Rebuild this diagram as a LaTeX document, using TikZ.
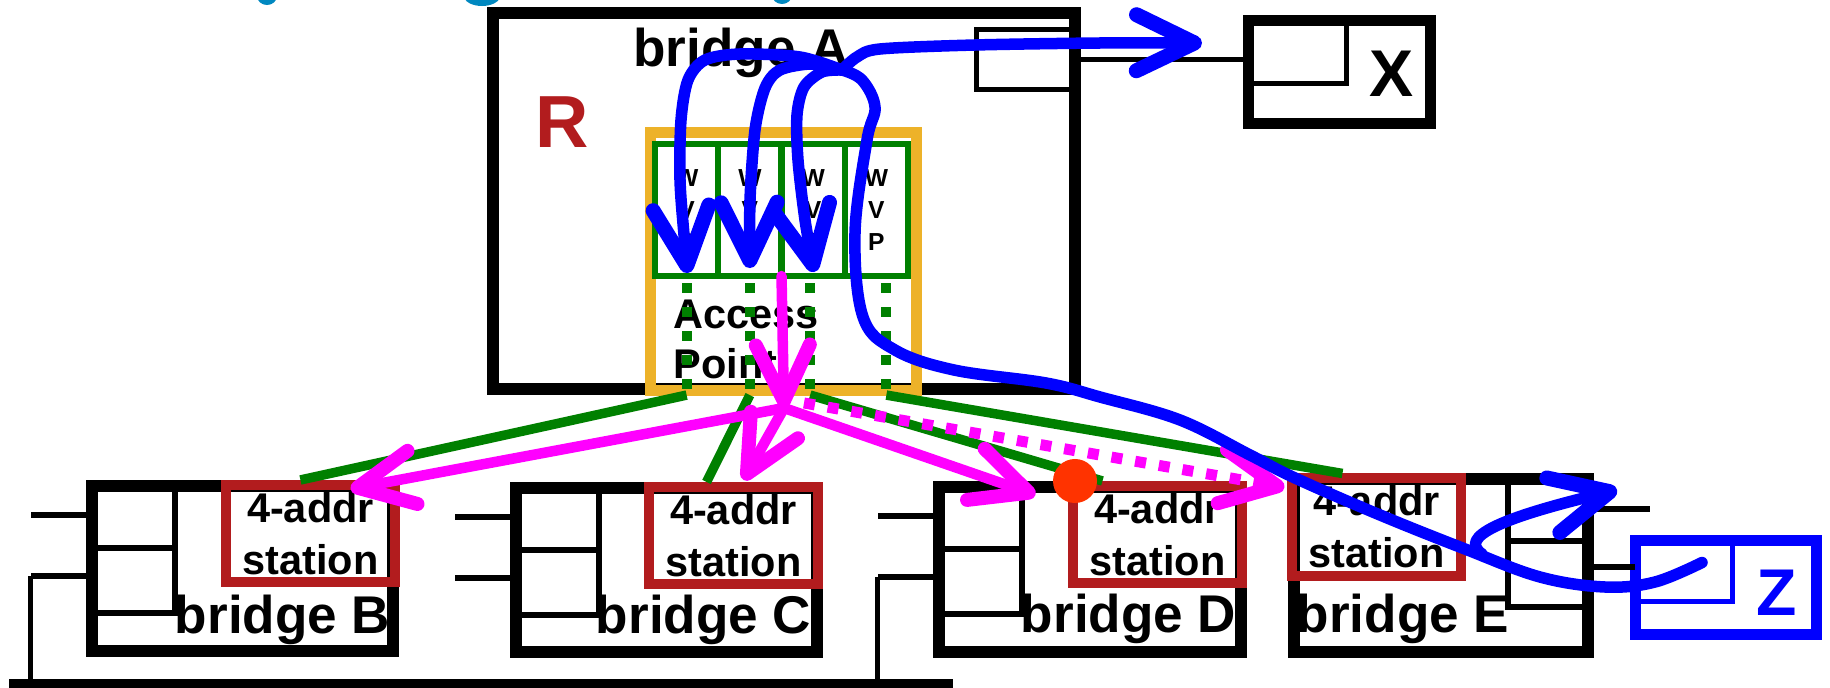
\documentclass[tikz,border=0pt]{standalone}
\usepackage{fontspec}
\setmainfont{Liberation Sans}
\usepackage{tikz}
\usetikzlibrary{arrows.meta,calc,positioning}

\definecolor{brred}{RGB}{178,28,30}
\definecolor{apgold}{RGB}{237,178,41}
\definecolor{linkgreen}{RGB}{0,128,0}
\definecolor{bcmag}{RGB}{255,0,255}
\definecolor{ucblue}{RGB}{0,0,255}
\definecolor{dotred}{RGB}{255,51,0}
\definecolor{titlecyan}{RGB}{0,136,192}

\newcommand{\brfont}{\fontsize{15.1}{18}\selectfont\bfseries}
\newcommand{\stfont}{\fontsize{11.8}{14.8}\selectfont\bfseries}
\newcommand{\wvpfont}{\fontsize{7}{9}\selectfont\bfseries}
\newcommand{\rfont}{\fontsize{21}{25}\selectfont\bfseries}
\newcommand{\hostfont}{\fontsize{18.8}{22}\selectfont\bfseries}

\tikzset{
  bridgebox/.style={
    shape = rectangle,
    draw,
    line width = 0.12cm,
    inner sep = 0pt,
    outer sep = 0pt
  },
  stationbox/.style={
    shape = rectangle,
    draw = brred,
    line width = 0.1cm,
    inner sep = 0pt,
    outer sep = 0pt,
    minimum width = 1.68cm,
    minimum height = 0.97cm,
    align = center,
    font = \stfont
  },
  hostbox/.style={
    shape = rectangle,
    draw,
    line width = 0.11cm,
    inner sep = 0pt,
    outer sep = 0pt
  },
  portbox/.style={
    shape = rectangle,
    draw,
    line width = 0.05cm,
    inner sep = 0pt,
    outer sep = 0pt
  },
  apbox/.style={
    shape = rectangle,
    draw = apgold,
    line width = 0.11cm,
    inner sep = 0pt,
    outer sep = 0pt
  },
  wvpcell/.style={
    shape = rectangle,
    draw = linkgreen,
    line width = 0.06cm,
    inner sep = 0pt,
    outer sep = 0pt,
    minimum width = 0.6325cm,
    minimum height = 1.32cm,
    align = center,
    font = \wvpfont
  },
  reddot/.style={
    shape = circle,
    fill = dotred,
    inner sep = 0pt,
    minimum size = 0.44cm
  },
}
\tikzset{
  innerline/.style={line width=0.06cm},
  thinline/.style={line width=0.05cm},
  busline/.style={line width=0.09cm},
  greenlink/.style={linkgreen, line width=0.095cm},
  dotlink/.style={linkgreen, line width=0.1cm, dash pattern=on 0.1cm off 0.14cm},
  bcast/.style={bcmag, line width=0.105cm, line cap=round,
    -{Straight Barb[length=0.56cm,width=0.54cm,line width=0.14cm,round]}},
  bcastdots/.style={bcmag, line width=0.11cm, dash pattern=on 0.11cm off 0.13cm,
    -{Straight Barb[length=0.56cm,width=0.54cm,line width=0.14cm,round]}},
  ucpath/.style={ucblue, line width=0.115cm, line cap=round, line join=round},
  ucarrow/.style={ucpath, -{Straight Barb[length=0.58cm,width=0.56cm,line width=0.15cm,round]}},
  brlabel/.style={font=\brfont, inner sep=0pt},
  aplabel/.style={font=\stfont, inner sep=0pt},
  rlabel/.style={font=\rfont, text=brred, inner sep=0pt},
  hostlabel/.style={font=\hostfont, inner sep=0pt},
}

\begin{document}
\begin{tikzpicture}[x=0.01cm, y=-0.01cm]
        \useasboundingbox (0,0) rectangle (1830,688);
        \fill[titlecyan] (267,-4) ellipse (0.1cm and 0.09cm);
        \fill[titlecyan] (482,-4) ellipse (0.18cm and 0.1cm);
        \fill[titlecyan] (782,-5) ellipse (0.1cm and 0.09cm);

        % bridge A and host X
        \node[bridgebox, minimum width=5.82cm, minimum height=3.76cm] (brA) at (784,201) {};
        \node[portbox, minimum width=0.95cm, minimum height=0.6cm] (portA) at (1024.5,59.5) {};
        \node[hostbox, minimum width=1.82cm, minimum height=1.03cm] (hostX) at (1339.5,72) {};
        \draw[thinline] (portA.east) -- (portA.east -| hostX.west);
        \draw[thinline] (hostX.north west) ++(98.5,0) -- ++(0,63.5) -- ++(-98.5,0);
        \node[hostlabel, anchor=base] (labX) at (1392,97) {X};

        % bridges B to E
        \node[bridgebox, minimum width=3.01cm, minimum height=1.65cm] (brB) at (242.5,568.5) {};
        \node[bridgebox, minimum width=3.01cm, minimum height=1.64cm] (brC) at (666.5,570) {};
        \node[bridgebox, minimum width=3.02cm, minimum height=1.65cm] (brD) at (1090,569.5) {};
        \node[bridgebox, minimum width=2.94cm, minimum height=1.73cm] (brE) at (1441,565.5) {};
        \foreach \b in {brB,brC,brD}{
            \draw[innerline] (\b.north west) ++(83,0) -- ++(0,127) -- ++(-83,0);
            \draw[innerline] (\b.north west) ++(0,62) -- ++(83,0);
            \draw[innerline] (\b.north west) ++(0,29) -- ++(-61,0);
            \draw[innerline] (\b.north west) ++(0,90) -- ++(-61,0) coordinate (lp\b);
        }
        \coordinate (busL) at (9,683.5);
        \coordinate (busR) at (953,683.5);
        \draw[busline] (busL) -- (busR);
        \draw[thinline] (lpbrB) -- (lpbrB |- busL);
        \draw[thinline] (lpbrD) -- (lpbrD |- busL);

        \node[hostbox, draw=ucblue, minimum width=1.81cm, minimum height=0.94cm] (hostZ) at (1726,587.5) {};
        \draw[thinline, ucblue] (hostZ.north west) ++(97.5,0) -- ++(0,61.5) -- ++(-97.5,0);
        \node[hostlabel, text=ucblue, anchor=base] (labZ) at (1777,615) {Z};
        \draw[innerline] (brE.north east) ++(-80,0) -- ++(0,128) -- ++(80,0);
        \draw[innerline] (brE.north east) ++(-80,62) -- ++(80,0);
        \draw[innerline] (brE.north east) ++(0,30) -- ++(62,0);
        \coordinate (eport) at ([shift={(0,88)}]brE.north east);
        \draw[innerline] (eport) -- (eport -| hostZ.west);

        \node[stationbox] (stB) at (310.5,533.5) {4-addr\\station};
        \node[stationbox] (stC) at (733.5,535.5) {4-addr\\station};
        \node[stationbox] (stD) at (1157.5,534.5) {4-addr\\station};
        \node[stationbox] (stE) at (1376.5,527) {4-addr\\station};

        \node[brlabel, anchor=base] (labA) at (741,67) {bridge A};
        \node[rlabel, anchor=base] (labR) at (562,148) {R};
        \node[brlabel, anchor=base east] (labB) at (391,633) {bridge B};
        \node[brlabel, anchor=base east] (labC) at (812,633) {bridge C};
        \node[brlabel, anchor=base east] (labD) at (1237,632) {bridge D};
        \node[brlabel, anchor=base west] (labE) at (1296,632) {bridge E};

        % access point with its virtual ports
        \node[apbox, minimum width=2.65cm, minimum height=2.57cm] (ap) at (783.5,261.5) {};
        \foreach \i in {1,...,4}
            \node[wvpcell] (w\i) at ({623.375+63.25*\i},210) {W\\V\\P};
        \node[aplabel, anchor=base west] (apl1) at (673,328) {Access};
        \node[aplabel, anchor=base west] (apl2) at (673,378) {Point};
        \foreach \i/\dx in {1/0,2/0,3/-3,4/10}{
            \coordinate (dtop\i) at ([shift={(\dx,7)}]w\i.south);
            \coordinate (dbot\i) at (dtop\i |- ap.south);
            \draw[dotlink] (dtop\i) -- (dbot\i);
        }
        \foreach \i/\st/\ox in {1/stB/74,2/stC/57,3/stD/29,4/stE/50}
            \draw[greenlink] ([yshift=-0.05cm]dbot\i) -- ([shift={(\ox,-5)}]\st.north west);
        \node[reddot] (loopdot) at (1075,481) {};

        % broadcast from the access point
        \coordinate (mj) at (784,408);
        \draw[bcast] (w2.south east) -- (mj);
        \draw[bcast] (mj) -- ([shift={(-44,4)}]stB.north east);
        \draw[bcast] (mj) -- ([shift={(10,-7)}]stC.north);
        \draw[bcast] (mj) -- ([shift={(-38,9)}]stD.north west);
        \draw[bcastdots] ([shift={(20,-5)}]mj) -- ([shift={(-8,9)}]stE.north west);

        % frame from Z
        \coordinate (zout) at ([shift={(-24,-25)}]hostZ.center);
        \coordinate (jct) at (842,70);
        \coordinate (ebr) at (1482,554);
        \draw[ucpath] plot[smooth, tension=0.6] coordinates {(zout) (1655,582) (1605,587) (1540,577)
            (1465,549) (1380,515) (1295,478) (1250,455) (1180,420) (1100,397) (1046,383) (954,370)
            (895,350) (863,317) (855,233) (867,140) (875,107) (862,80) (jct)};
        \draw[ucarrow] (ebr) .. controls (1458,537) and (1500,518) .. ([shift={(29,11)}]brE.north east);
        \draw[ucarrow] plot[smooth] coordinates {(jct) (857,57) (880,49) (975,45) (1100,43)
            ([shift={(-46.5,-29)}]hostX.west)};
        \draw[ucarrow] plot[smooth] coordinates {(jct) (800,57) (740,54) (705,60) (688,80) (681,120)
            (680,180) (684,235) ([shift={(1,-3)}]w1.south)};
        \draw[ucarrow] plot[smooth] coordinates {(jct) (812,64) (780,70) (765,88) (755,130) (750,200)
            ([shift={(0,-8)}]w2.south)};
        \draw[ucarrow] plot[smooth] coordinates {(jct) (822,72) (804,87) (797,115) (798,160) (805,220)
            ([shift={(1,-4)}]w3.south)};
\end{tikzpicture}
\end{document}
